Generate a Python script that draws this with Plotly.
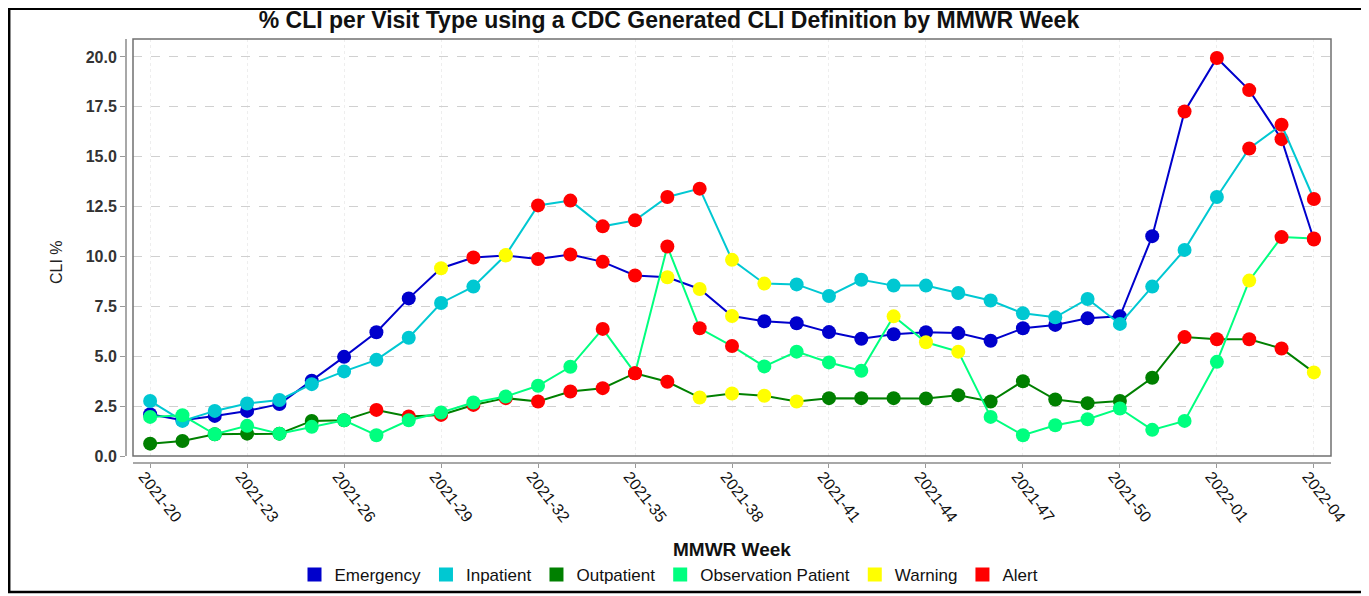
import plotly.graph_objects as go

# MMWR weeks, 2021-20 .. 2022-04
weeks = [f"2021-{w:02d}" for w in range(20, 53)] + [f"2022-{w:02d}" for w in range(1, 5)]
tick_weeks = weeks[::3]

emergency = [2.09, 1.79, 2.01, 2.26, 2.6, 3.77, 4.97, 6.2, 7.9, 9.41, 9.95, 10.05, 9.87,
             10.1, 9.73, 9.05, 8.96, 8.37, 7.02, 6.75, 6.65, 6.21, 5.88, 6.1, 6.2, 6.16,
             5.78, 6.4, 6.57, 6.9, 7.0, 11.02, 17.27, 19.95, 18.34, 15.88, 10.85]
inpatient = [2.76, 1.76, 2.26, 2.63, 2.81, 3.6, 4.24, 4.82, 5.93, 7.67, 8.49, 10.07, 12.56,
             12.8, 11.51, 11.81, 12.98, 13.4, 9.83, 8.64, 8.6, 8.02, 8.83, 8.54, 8.54, 8.17,
             7.79, 7.15, 6.95, 7.87, 6.62, 8.49, 10.33, 12.98, 15.41, 16.6, 12.88]
outpatient = [0.62, 0.75, 1.09, 1.12, 1.12, 1.76, 1.79, 2.31, 1.98, 2.06, 2.56, 2.9, 2.73,
              3.23, 3.4, 4.15, 3.72, 2.93, 3.13, 3.02, 2.73, 2.9, 2.9, 2.9, 2.88, 3.05,
              2.73, 3.75, 2.83, 2.65, 2.76, 3.92, 5.96, 5.85, 5.85, 5.39, 4.19]
observation = [1.96, 2.04, 1.09, 1.51, 1.12, 1.46, 1.79, 1.04, 1.79, 2.18, 2.68, 2.98, 3.52,
               4.47, 6.37, 4.15, 10.5, 6.4, 5.51, 4.49, 5.23, 4.69, 4.27, 7.0, 5.7, 5.23,
               1.96, 1.04, 1.54, 1.84, 2.38, 1.31, 1.76, 4.72, 8.79, 10.97, 10.9]

# N = normal, W = warning, A = alert (one flag per week)
emergency_flags = "NNNNNNNNN" "W" "A" "W" "AAAA" "WWW" "NNNNNNNNNNNNN" "AAAAA"
inpatient_flags = "NNNNNNNNNNN" "W" "AAAAAA" "WW" "NNNNNNNNNNNNNN" "AAA"
outpatient_flags = "NNNNNNN" "AAAAAAAAAA" "WWWW" "NNNNNNNNNNN" "AAAA" "W"
observation_flags = "NNNNNNNNNNNNNN" "AAAAA" "NNNN" "WWW" "NNNNNNNN" "W" "AA"

WARNING_COLOR = "#FFFF00"
ALERT_COLOR = "#FF0000"

series = [
    ("Emergency", emergency, emergency_flags, "#0000CC"),
    ("Inpatient", inpatient, inpatient_flags, "#00C8D2"),
    ("Outpatient", outpatient, outpatient_flags, "#008000"),
    ("Observation Patient", observation, observation_flags, "#00FF7F"),
]

FONT = "Arial, Liberation Sans, sans-serif"

# page has an 8px body margin; figure fills the rest of the window
OFF = 8
W, H = 1369 - OFF, 596 - OFF
L, R, T, B = 92, 30, 31, 110
PW, PH = W - L - R, H - T - B


def px(sx):
    # screen x -> paper x
    return (sx - OFF - L) / PW


def py(sy):
    # screen y -> paper y
    return (H - B - (sy - OFF)) / PH


fig = go.Figure()

for name, values, flags, color in series:
    marker_colors = [
        {"N": color, "W": WARNING_COLOR, "A": ALERT_COLOR}[f] for f in flags
    ]
    fig.add_trace(
        go.Scatter(
            x=weeks,
            y=values,
            mode="lines+markers",
            line=dict(color=color, width=2),
            marker=dict(color=marker_colors, size=14, line=dict(width=0)),
            name=name,
            showlegend=False,
        )
    )

# legend entries (squares)
for name, color in [(s[0], s[3]) for s in series] + [("Warning", WARNING_COLOR), ("Alert", ALERT_COLOR)]:
    fig.add_trace(
        go.Scatter(
            x=[None],
            y=[None],
            mode="markers",
            marker=dict(symbol="square", size=14, color=color),
            name=name,
        )
    )

fig.update_layout(
    width=W,
    height=H,
    margin=dict(l=L, r=R, t=T, b=B, autoexpand=False),
    paper_bgcolor="white",
    plot_bgcolor="white",
    font=dict(family=FONT, color="#222222"),
    title=dict(
        text="% CLI per Visit Type using a CDC Generated CLI Definition by MMWR Week",
        x=(669 - OFF) / W,
        xref="container",
        xanchor="center",
        y=1 - (20 - OFF) / H,
        yref="container",
        yanchor="middle",
        font=dict(size=23, weight="bold", color="#111111"),
    ),
    legend=dict(
        orientation="h",
        x=px(669),
        xanchor="center",
        y=py(575),
        yanchor="middle",
        bgcolor="rgba(0,0,0,0)",
        font=dict(size=17, color="#111111"),
        itemwidth=30,
    ),
    showlegend=True,
)

fig.update_xaxes(
    type="category",
    range=[-0.53, 36.53],
    domain=[px(133), px(1331)],
    anchor="free",
    position=py(463),
    automargin=False,
    tickmode="array",
    tickvals=tick_weeks,
    ticktext=tick_weeks,
    tickangle=52,
    tickfont=dict(size=16, color="#111111"),
    ticks="outside",
    ticklen=4,
    tickcolor="#999999",
    ticklabelstandoff=-7,
    ticklabelshift=-6,
    showline=True,
    linecolor="#A8A8A8",
    linewidth=2,
    showgrid=True,
    gridcolor="#EEEEEE",
    griddash="dot",
    zeroline=False,
)
fig.update_yaxes(
    range=[0, 20.9],
    domain=[py(456), 1],
    anchor="free",
    position=px(126),
    automargin=False,
    tickmode="array",
    tickvals=[0, 2.5, 5, 7.5, 10, 12.5, 15, 17.5, 20],
    tickformat=".1f",
    tickfont=dict(size=16, weight="bold", color="#333333"),
    ticks="outside",
    ticklen=5,
    tickcolor="#999999",
    showline=True,
    linecolor="#A8A8A8",
    linewidth=2,
    showgrid=True,
    gridcolor="#D0D0D0",
    griddash="dash",
    zeroline=False,
)

# plot frame and outer border
fig.add_shape(type="rect", xref="x domain", yref="y domain", x0=0, x1=1, y0=0, y1=1,
              line=dict(color="#707070", width=1.5))
fig.add_shape(type="rect", xref="paper", yref="paper",
              x0=(1.2 - L) / PW, x1=(W + 5 - L) / PW,
              y0=py(592), y1=(H - B - 0.8) / PH,
              line=dict(color="#000000", width=2.5))

fig.add_annotation(text="MMWR Week", x=px(732), y=py(549), xref="paper", yref="paper",
                   xanchor="center", yanchor="middle", showarrow=False,
                   font=dict(size=19, weight="bold", color="#111111"))
fig.add_annotation(text="CLI %", x=px(56), y=py(262), xref="paper", yref="paper",
                   xanchor="center", yanchor="middle", showarrow=False, textangle=-90,
                   font=dict(size=16, color="#222222"))

fig.write_html("out.html")
